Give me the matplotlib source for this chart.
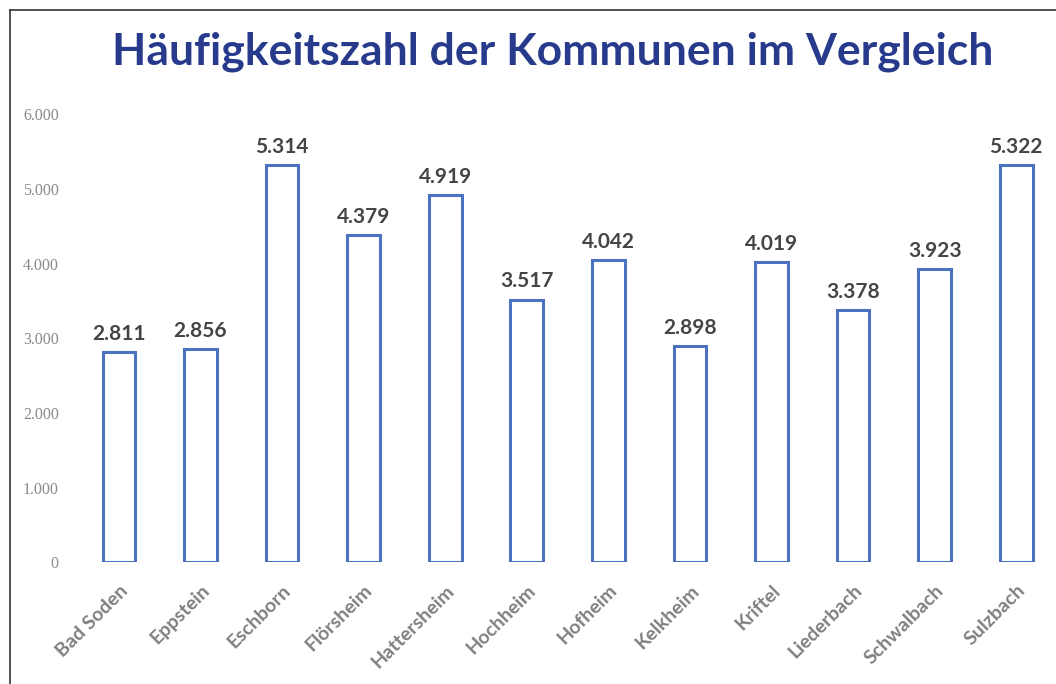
import matplotlib
matplotlib.use("Agg")
import matplotlib.pyplot as plt
from matplotlib.lines import Line2D
from matplotlib.ticker import FuncFormatter

kommunen = ["Bad Soden", "Eppstein", "Eschborn", "Flörsheim", "Hattersheim",
            "Hochheim", "Hofheim", "Kelkheim", "Kriftel", "Liederbach",
            "Schwalbach", "Sulzbach"]
hz = [2811, 2856, 5314, 4379, 4919, 3517, 4042, 2898, 4019, 3378, 3923, 5322]
yticks = [0, 1000, 2000, 3000, 4000, 5000, 6000]


def de_fmt(v):
    return f"{int(v):,}".replace(",", ".")


fig = plt.figure(figsize=(10.56, 6.84), dpi=100)
ax = fig.add_axes([0.074, 0.178, 0.927, 0.655])

x = range(len(kommunen))
ax.bar(x, hz, width=0.4, color="white", edgecolor="#4a72c0", linewidth=2.2)

for i, v in zip(x, hz):
    ax.text(i, v + 110, de_fmt(v), ha="center", va="bottom",
            fontsize=15, fontweight="bold", color="#454545", family="Lato")

ax.set_xlim(-0.5, len(kommunen) - 0.5)
ax.set_ylim(0, 6000)
ax.set_yticks(yticks)
ax.yaxis.set_major_formatter(FuncFormatter(lambda v, p: de_fmt(v)))
ax.set_xticks(list(x))
ax.set_xticklabels(kommunen, rotation=45, ha="right", rotation_mode="anchor",
                   fontsize=14, fontweight="bold", color="#808080", family="Lato")
for lab in ax.get_yticklabels():
    lab.set_color("#8a8a8a")
    lab.set_fontsize(11.5)
    lab.set_family("Liberation Serif")
ax.tick_params(axis="both", length=0)
ax.tick_params(axis="y", pad=14)
ax.tick_params(axis="x", pad=14)
for s in ax.spines.values():
    s.set_visible(False)

fig.text(0.523, 0.925, "Häufigkeitszahl der Kommunen im Vergleich",
         ha="center", va="center", fontsize=32, fontweight="bold",
         color="#283a8c", family="Lato")

# frame lines at top and left like the original screenshot
fig.add_artist(Line2D([0.0095, 1.0], [0.985, 0.985], color="#333333", lw=1.2))
fig.add_artist(Line2D([0.0095, 0.0095], [0.0, 0.985], color="#333333", lw=1.2))

plt.savefig("out.png", dpi=100)
